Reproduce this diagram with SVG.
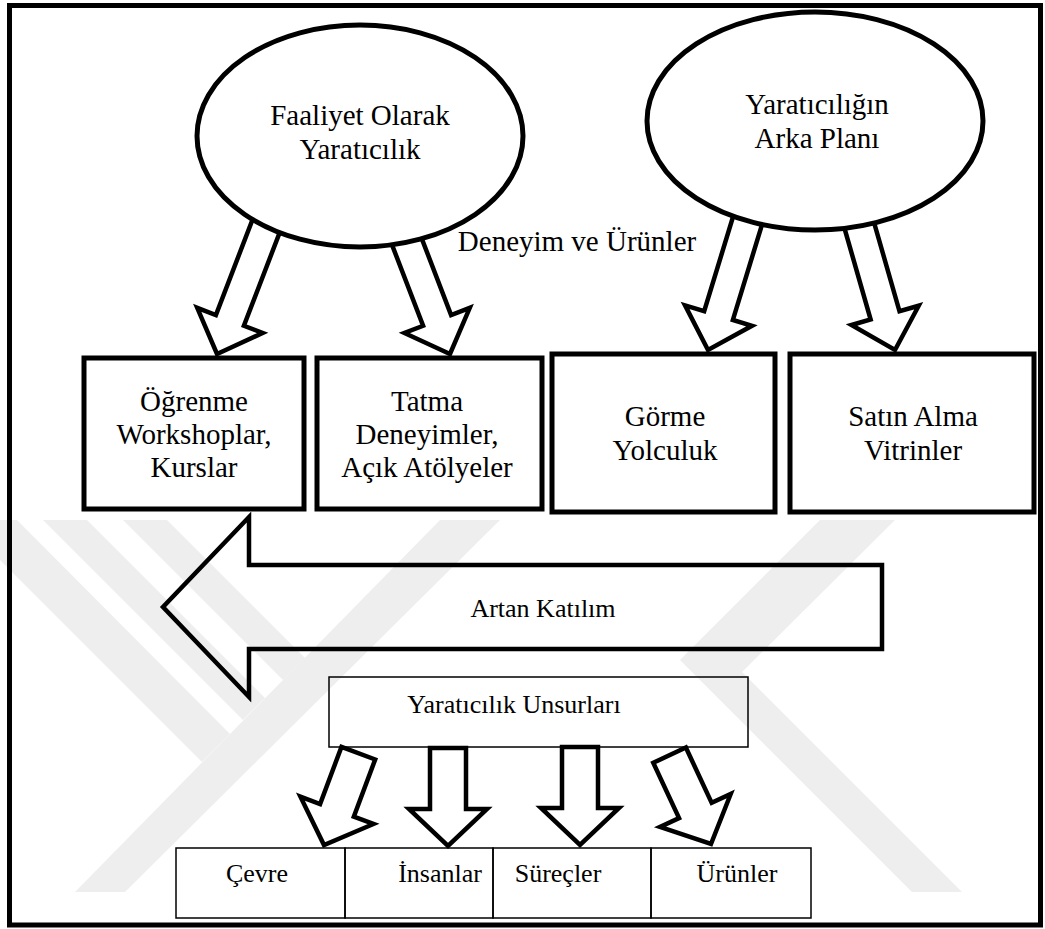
<svg xmlns="http://www.w3.org/2000/svg" width="1045" height="929" viewBox="0 0 1045 929">
  <style>
    .t { font-family: "Liberation Serif", "Times New Roman", serif; fill: #000; text-anchor: middle; }
    .big { font-size: 29px; }
    .small { font-size: 26px; }
    .thick { fill: none; stroke: #000; stroke-width: 5; }
    .arrow { fill: none; stroke: #000; stroke-width: 4.5; stroke-linejoin: miter; stroke-miterlimit: 10; }
    .thin { fill: none; stroke: #000; stroke-width: 1.5; }
    .wm { fill: #eeeeee; stroke: none; }
  </style>
  <defs>
    <!-- block arrow pointing down, tip at origin -->
    <polygon id="arrTop" points="-15,-150 15,-150 15,-36 35,-36 0,0 -35,-36 -15,-36"/>
    <polygon id="arrDown" points="-18,-98 18,-98 18,-37 39,-37 0,0 -39,-37 -18,-37"/>
  </defs>

  <rect width="1045" height="929" fill="#fff"/>

  <!-- pale background emblem behind the lower half -->
  <g id="background-emblem">
    <polygon class="wm" points="440,520 500,520 125,892 75,892"/>
    <polygon class="wm" points="-40,520 17,520 230,734 202,762"/>
    <polygon class="wm" points="43,520 87,520 265,698 243,720"/>
    <polygon class="wm" points="123,520 167,520 305,658 283,680"/>
    <polygon class="wm" points="820,520 895,520 742,672 962,892 912,892 680,660"/>
  </g>

  <!-- outer frame -->
  <rect x="9.5" y="5.5" width="1031" height="919.5" class="thick"/>

  <g id="connectors">
    <use href="#arrTop" class="arrow" transform="translate(217,354) rotate(21)"/>
    <use href="#arrTop" class="arrow" transform="translate(450,354) rotate(-21)"/>
    <use href="#arrTop" class="arrow" transform="translate(708,350) rotate(17)"/>
    <use href="#arrTop" class="arrow" transform="translate(895,350) rotate(-16)"/>
    <polygon id="artan-katilim" class="arrow" points="882,565 249,565 249,517 163,607 249,697 249,649 882,649"/>
  </g>

  <g id="faaliyet">
    <ellipse cx="360" cy="136" rx="163" ry="111" fill="#fff" stroke="#000" stroke-width="5"/>
    <text class="t big" x="360" y="125">Faaliyet Olarak</text>
    <text class="t big" x="360" y="159">Yaratıcılık</text>
  </g>

  <g id="arka-plan">
    <ellipse cx="815" cy="121" rx="168" ry="109" fill="#fff" stroke="#000" stroke-width="5"/>
    <text class="t big" x="817" y="114">Yaratıcılığın</text>
    <text class="t big" x="817" y="148">Arka Planı</text>
  </g>

  <g id="deneyim-label">
    <text class="t big" x="577" y="251">Deneyim ve Ürünler</text>
  </g>

  <g id="ogrenme">
    <rect x="84" y="358" width="220" height="151" class="thick"/>
    <text class="t big" x="194" y="411">Öğrenme</text>
    <text class="t big" x="194" y="444">Workshoplar,</text>
    <text class="t big" x="194" y="477">Kurslar</text>
  </g>

  <g id="tatma">
    <rect x="317" y="358" width="225" height="151" class="thick"/>
    <text class="t big" x="427" y="411">Tatma</text>
    <text class="t big" x="427" y="444">Deneyimler,</text>
    <text class="t big" x="427" y="477">Açık Atölyeler</text>
  </g>

  <g id="gorme">
    <rect x="552" y="354" width="223" height="158" class="thick"/>
    <text class="t big" x="665" y="426">Görme</text>
    <text class="t big" x="665" y="460">Yolculuk</text>
  </g>

  <g id="satin-alma">
    <rect x="790" y="354" width="244" height="158" class="thick"/>
    <text class="t big" x="913" y="426">Satın Alma</text>
    <text class="t big" x="913" y="460">Vitrinler</text>
  </g>

  <g id="artan-label">
    <text class="t small" x="543" y="617">Artan Katılım</text>
  </g>

  <g id="unsurlar">
    <rect x="329" y="677" width="419" height="70" class="thin"/>
    <text class="t small" x="514" y="713">Yaratıcılık Unsurları</text>
  </g>

  <g id="connectors-lower">
    <use href="#arrDown" class="arrow" transform="translate(324,845) rotate(20.5)"/>
    <use href="#arrDown" class="arrow" transform="translate(448,846)"/>
    <use href="#arrDown" class="arrow" transform="translate(580,845)"/>
    <use href="#arrDown" class="arrow" transform="translate(711,844) rotate(-25)"/>
  </g>

  <g id="cevre">
    <rect x="176" y="848" width="169" height="70" class="thin"/>
    <text class="t small" x="257" y="882">Çevre</text>
  </g>
  <g id="insanlar">
    <rect x="345" y="848" width="148" height="70" class="thin"/>
    <text class="t small" x="440" y="882">İnsanlar</text>
  </g>
  <g id="surecler">
    <rect x="493" y="848" width="158" height="70" class="thin"/>
    <text class="t small" x="558" y="882">Süreçler</text>
  </g>
  <g id="urunler">
    <rect x="651" y="848" width="160" height="70" class="thin"/>
    <text class="t small" x="737" y="882">Ürünler</text>
  </g>
</svg>
